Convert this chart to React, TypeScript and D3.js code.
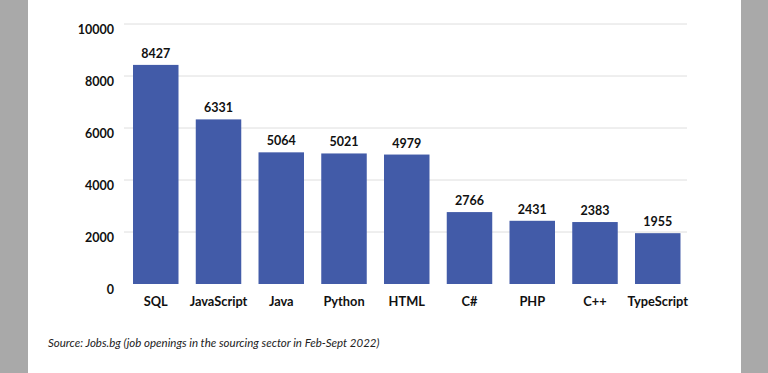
import React from "react";
import * as d3 from "d3";

const categories = ["SQL", "JavaScript", "Java", "Python", "HTML", "C#", "PHP", "C++", "TypeScript"];
const values = [8427, 6331, 5064, 5021, 4979, 2766, 2431, 2383, 1955];
const yTicks = [0, 2000, 4000, 6000, 8000, 10000];
const sourceText = "Source: Jobs.bg (job openings in the sourcing sector in Feb-Sept 2022)";

export default function App() {
  const W = 768, H = 373;
  const x = d3.scaleBand<string>().domain(categories).range([123.6, 689.9]).paddingInner(0.275).paddingOuter(0.15);
  const y = d3.scaleLinear().domain([0, 10000]).range([284, 24]);
  const font = "Lato, 'Open Sans', sans-serif";
  return (
    <svg width={W} height={H} style={{ position: "absolute", left: 0, top: 0 }} fontFamily={font}>
      <rect x={0} y={0} width={W} height={H} fill="#ffffff" />
      <rect x={0} y={0} width={28} height={H} fill="#a9a9a9" />
      <rect x={741} y={0} width={W - 741} height={H} fill="#a9a9a9" />
      {yTicks.map((t) => (
        <g key={t}>
          {t > 0 && <line x1={124} x2={687} y1={y(t)} y2={y(t)} stroke="#dedede" strokeWidth={1} />}
          <text x={114} y={y(t) + 10} textAnchor="end" fontSize={12.5} fontWeight={700} fill="#111">{t}</text>
        </g>
      ))}
      {categories.map((c, i) => (
        <g key={c}>
          <rect x={x(c)} y={y(values[i])} width={x.bandwidth()} height={y(0) - y(values[i])} fill="#425ba8" />
          <text x={(x(c) as number) + x.bandwidth() / 2} y={y(values[i]) - 7} textAnchor="middle" fontSize={12.5} fontWeight={700} fill="#111">{values[i]}</text>
          <text x={(x(c) as number) + x.bandwidth() / 2} y={306} textAnchor="middle" fontSize={12.8} fontWeight={700} fill="#111">{c}</text>
        </g>
      ))}
      <text x={48} y={347} fontSize={11.5} fontStyle="italic" fill="#222">{sourceText}</text>
    </svg>
  );
}
